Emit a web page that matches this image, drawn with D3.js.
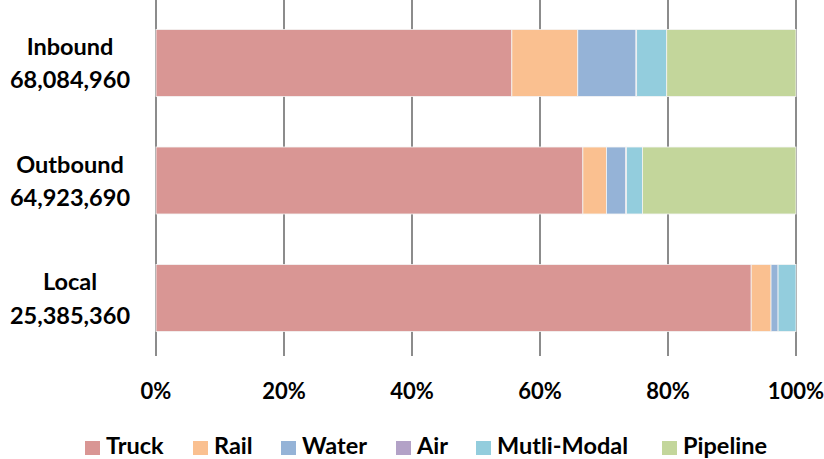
<!DOCTYPE html>
<html>
<head>
<meta charset="utf-8">
<script src="https://cdn.jsdelivr.net/npm/d3@7"></script>
<style>
  body { margin: 0; background: #fff; }
  text { font-family: Lato, "Open Sans", sans-serif; font-weight: bold; fill: #000; }
</style>
</head>
<body>
<div id="chart"></div>
<script>
const width = 824;
const height = 459;

const categories = ["Inbound", "Outbound", "Local"];
const totals = ["68,084,960", "64,923,690", "25,385,360"];
const modes = ["Truck", "Rail", "Water", "Air", "Mutli-Modal", "Pipeline"];
const colors = ["#d99694", "#fac090", "#95b3d7", "#b3a2c7", "#93cddd", "#c3d69b"];
// percent share per mode, one row per category
const truck    = [55.6, 66.7, 93.0];
const rail     = [10.3, 3.7, 3.1];
const water    = [9.1, 3.0, 1.1];
const air      = [0.1, 0.1, 0.0];
const multi    = [4.7, 2.5, 2.8];
const pipeline = [20.2, 24.0, 0.0];
const ticks = [0, 20, 40, 60, 80, 100];

const series = [truck, rail, water, air, multi, pipeline];

const margin = {top: 6, left: 156, right: 28, bottom: 104};

const svg = d3.select("#chart")
    .append("svg")
    .attr("width", width)
    .attr("height", height);

const x = d3.scaleLinear()
    .domain([0, 100])
    .range([margin.left, width - margin.right]);

const y = d3.scaleBand()
    .domain(categories)
    .range([margin.top, height - margin.bottom])
    .paddingInner(0.43)
    .paddingOuter(0.2);

// gridlines
svg.append("g")
    .selectAll("line")
    .data(ticks)
    .join("line")
    .attr("x1", d => x(d))
    .attr("x2", d => x(d))
    .attr("y1", 0)
    .attr("y2", 356)
    .attr("stroke", "#8c8c8c")
    .attr("stroke-width", 2);

// stacked bars
const rows = categories.map((c, i) => {
    let acc = 0;
    return series.map((s, j) => {
        const seg = {cat: c, mode: modes[j], x0: acc, x1: acc + s[i]};
        acc += s[i];
        return seg;
    });
}).flat().filter(d => d.x1 > d.x0);

svg.append("g")
    .selectAll("rect")
    .data(rows)
    .join("rect")
    .attr("x", d => x(d.x0))
    .attr("y", d => y(d.cat))
    .attr("width", d => x(d.x1) - x(d.x0))
    .attr("height", y.bandwidth())
    .attr("fill", d => colors[modes.indexOf(d.mode)])
    .attr("stroke", "#f4f4f4")
    .attr("stroke-width", 0.8);

// category labels
const labels = svg.append("g")
    .selectAll("text")
    .data(categories)
    .join("text")
    .attr("text-anchor", "middle")
    .attr("font-size", 23.5);

labels.append("tspan")
    .attr("x", 70)
    .attr("y", d => y(d) + y.bandwidth() / 2 - 8)
    .text(d => d);

labels.append("tspan")
    .attr("x", 70)
    .attr("y", d => y(d) + y.bandwidth() / 2 + 25.5)
    .text((d, i) => totals[i]);

// x axis labels
svg.append("g")
    .selectAll("text")
    .data(ticks)
    .join("text")
    .attr("x", d => x(d))
    .attr("y", 399)
    .attr("text-anchor", "middle")
    .attr("font-size", 22)
    .text(d => d + "%");

// legend
const legendX = [85, 193, 281, 396, 476, 662];
const legend = svg.append("g")
    .selectAll("g")
    .data(modes)
    .join("g")
    .attr("transform", (d, i) => `translate(${legendX[i]},441)`);

legend.append("rect")
    .attr("width", 15)
    .attr("height", 14)
    .attr("fill", (d, i) => colors[i]);

legend.append("text")
    .attr("x", 21)
    .attr("y", 13)
    .attr("font-size", 23.5)
    .text(d => d);
</script>
</body>
</html>
